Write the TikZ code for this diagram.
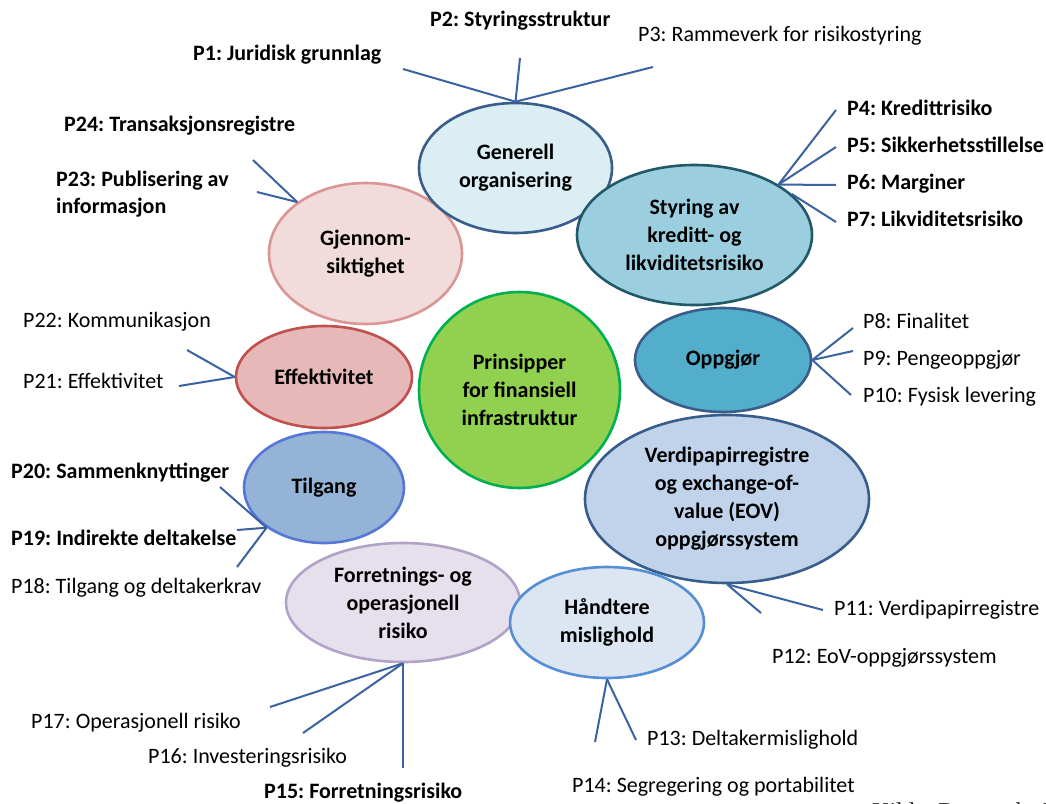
\documentclass[tikz,border=0pt]{standalone}
\usepackage{fontspec}
\setmainfont{Carlito}
\newfontfamily\timesfont{Liberation Serif}
\usetikzlibrary{shapes.geometric}
\frenchspacing
\definecolor{linec}{HTML}{3A63A0}
\definecolor{genfill}{HTML}{DBEEF4}
\definecolor{genline}{HTML}{385D8A}
\definecolor{gjfill}{HTML}{F2DCDB}
\definecolor{gjline}{HTML}{D99694}
\definecolor{styfill}{HTML}{9BCFE0}
\definecolor{styline}{HTML}{215968}
\definecolor{oppfill}{HTML}{52AECA}
\definecolor{prfill}{HTML}{92D050}
\definecolor{prline}{HTML}{00B050}
\definecolor{vpfill}{HTML}{C0D3EA}
\definecolor{hafill}{HTML}{DCE6F2}
\definecolor{haline}{HTML}{558ED5}
\definecolor{fofill}{HTML}{E6E0EC}
\definecolor{foline}{HTML}{B3A2C7}
\definecolor{effill}{HTML}{E6B9B8}
\definecolor{efline}{HTML}{C0504D}
\definecolor{tifill}{HTML}{95B3D7}
\definecolor{tiline}{HTML}{5577D6}
\tikzset{
  bub/.style={ellipse, draw, line width=2.6pt, inner sep=0pt, align=center,
    font=\bfseries\fontsize{22}{28}\selectfont},
  lab/.style={anchor=west, inner sep=0pt, font=\fontsize{22}{27}\selectfont,
    text height=15pt, text depth=5pt},
  blab/.style={lab, font=\bfseries\fontsize{22}{27}\selectfont},
  con/.style={draw=linec, line width=2pt},
}
\begin{document}
\begin{tikzpicture}[x=1pt,y=-1pt]
\useasboundingbox (0,0) rectangle (1046,803);
\clip (0,0) rectangle (1046,803);
\fill[white] (0,0) rectangle (1046,803);

% free ends of connectors
\coordinate (p1e) at (403,69);
\coordinate (p2e) at (520,58);
\coordinate (p3e) at (653,67);
\coordinate (p24e) at (253,160);
\coordinate (p23e) at (257,192);
\coordinate (p4e) at (836,110);
\coordinate (p5e) at (836,147);
\coordinate (p6e) at (836,185);
\coordinate (p7e) at (836,222);
\coordinate (p8e) at (853,328);
\coordinate (p9e) at (853,351);
\coordinate (p10e) at (851,395);
\coordinate (p22e) at (187,350);
\coordinate (p21e) at (179,386);
\coordinate (p20e) at (220,487);
\coordinate (p19e) at (237,530);
\coordinate (p18e) at (237,567);
\coordinate (p17e) at (270,707);
\coordinate (p16e) at (303,733);
\coordinate (p15e) at (403,768);
\coordinate (p11e) at (823,610);
\coordinate (p12e) at (761,613);
\coordinate (p13e) at (636,740);
\coordinate (p14e) at (595,742);

% bubbles
\node[bub, fill=gjfill, draw=gjline, minimum width=193pt, minimum height=141pt] (gjen) at (365.5,253.5) {Gjennom-\\siktighet};
\node[bub, fill=genfill, draw=genline, minimum width=193pt, minimum height=130pt] (gen) at (515.5,168) {Generell\\organisering};
\node[bub, fill=styfill, draw=styline, minimum width=235pt, minimum height=140pt] (sty) at (694.5,235) {Styring av\\kreditt- og\\likviditetsrisiko};
\node[bub, fill=oppfill, draw=genline, minimum width=176pt, minimum height=104pt] (opp) at (723,360) {Oppgjør};
\node[bub, fill=effill, draw=efline, minimum width=176pt, minimum height=102pt] (eff) at (324,377) {Effektivitet};
\node[bub, fill=tifill, draw=tiline, minimum width=160pt, minimum height=111pt] (til) at (324,487.5) {Tilgang};
\node[bub, fill=fofill, draw=foline, minimum width=234pt, minimum height=119pt] (forr) at (403,602.5) {Forretnings- og\\operasjonell\\risiko};
\node[bub, fill=vpfill, draw=genline, minimum width=284pt, minimum height=168pt] (vp) at (727,499) {Verdipapirregistre\\og exchange-of-\\value (EOV)\\oppgjørssystem};
\node[bub, fill=hafill, draw=haline, minimum width=194pt, minimum height=111pt] (hand) at (607,622.5) {Håndtere\\mislighold};
\node[bub, fill=prfill, draw=prline, minimum width=201pt, minimum height=196pt] (prin) at (519.5,390) {Prinsipper\\for finansiell\\infrastruktur};

% connectors
\draw[con] (p1e) -- (gen.north);
\draw[con] (p2e) -- (gen.north);
\draw[con] (p3e) -- (gen.north);
\draw[con] (p24e) -- (gjen.143);
\draw[con] (p23e) -- (gjen.143);
\draw[con] (p4e) -- (sty.31);
\draw[con] (p5e) -- (sty.31);
\draw[con] (p6e) -- (sty.31);
\draw[con] (p7e) -- (sty.23);
\draw[con] (p8e) -- (opp.east);
\draw[con] (p9e) -- (opp.east);
\draw[con] (p10e) -- (opp.east);
\draw[con] (p22e) -- (eff.west);
\draw[con] (p21e) -- (eff.west);
\draw[con] (p20e) -- (til.215);
\draw[con] (p19e) -- (til.215);
\draw[con] (p18e) -- (til.215);
\draw[con] (p17e) -- (forr.south);
\draw[con] (p16e) -- (forr.south);
\draw[con] (p15e) -- (forr.south);
\draw[con] (p11e) -- (vp.south);
\draw[con] (p12e) -- (vp.south);
\draw[con] (p13e) -- (hand.south);
\draw[con] (p14e) -- (hand.south);

% labels
\node[blab] (l1) at (193,55) {P1: Juridisk grunnlag};
\node[blab] (l2) at (430,21) {P2: Styringsstruktur};
\node[lab] (l3) at (638,36) {P3: Rammeverk for risikostyring};
\node[blab] (l24) at (64,126) {P24: Transaksjonsregistre};
\node[anchor=west, inner sep=0pt, align=left, font=\bfseries\fontsize{22}{27}\selectfont] (l23) at (56,194) {P23: Publisering av\\informasjon};
\node[blab] (l4) at (847,110) {P4: Kredittrisiko};
\node[blab] (l5) at (847,147) {P5: Sikkerhetsstillelse};
\node[blab] (l6) at (847,184) {P6: Marginer};
\node[blab] (l7) at (847,221) {P7: Likviditetsrisiko};
\node[lab] (l8) at (863,323) {P8: Finalitet};
\node[lab] (l9) at (863,360) {P9: Pengeoppgjør};
\node[lab] (l10) at (863,397) {P10: Fysisk levering};
\node[lab] (l22) at (23,322) {P22: Kommunikasjon};
\node[lab] (l21) at (23,383) {P21: Effektivitet};
\node[blab] (l20) at (11,473) {P20: Sammenknyttinger};
\node[blab] (l19) at (11,540) {P19: Indirekte deltakelse};
\node[lab] (l18) at (11,588) {P18: Tilgang og deltakerkrav};
\node[lab] (l17) at (31,723) {P17: Operasjonell risiko};
\node[lab] (l16) at (148,758) {P16: Investeringsrisiko};
\node[blab] (l15) at (264,793) {P15: Forretningsrisiko};
\node[lab] (l11) at (834,610) {P11: Verdipapirregistre};
\node[lab] (l12) at (772,658) {P12: EoV-oppgjørssystem};
\node[lab] (l13) at (647,740) {P13: Deltakermislighold};
\node[lab] (l14) at (572,787) {P14: Segregering og portabilitet};
\node[anchor=base west, inner sep=0pt, font=\timesfont\fontsize{24}{28}\selectfont] (src) at (872,819) {Kilde: Danmarks Nationalbank};
\end{tikzpicture}
\end{document}
